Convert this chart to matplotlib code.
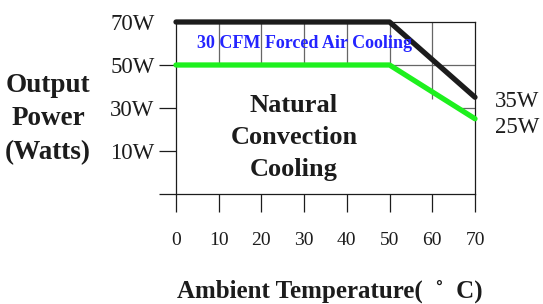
import matplotlib.pyplot as plt

# === Derating curve data ===
temps = [0, 10, 20, 30, 40, 50, 60, 70]
curve_temps = [0, 50, 70]
forced_air = [70, 70, 35]      # 30 CFM forced air cooling
natural_conv = [50, 50, 25]    # natural convection cooling
y_ticks = [-10, 10, 30, 50, 70]
y_labels = ['', '10W', '30W', '50W', '70W']
end_labels = ['35W', '25W']

plt.rcParams['font.family'] = ['Liberation Serif', 'DejaVu Serif']
ink = '#1c1c1c'
grid_c = '#666666'

fig = plt.figure(figsize=(5.43, 3.04), dpi=100)
ax = fig.add_axes([176 / 543, 1 - 194 / 304, 299 / 543, 172 / 304])
ax.set_xlim(0, 70)
ax.set_ylim(-10, 70)

for side in ['left', 'right', 'top', 'bottom']:
    ax.spines[side].set_color(ink)
    ax.spines[side].set_linewidth(0.9)

# === Ticks ===
ax.set_xticks(temps)
ax.set_xticklabels([str(t) for t in temps])
ax.tick_params(axis='x', direction='out', length=13, width=0.9, color=ink,
               pad=14.5, labelsize=14, labelcolor=ink)
ax.set_yticks(y_ticks)
ax.set_yticklabels(y_labels)
ax.tick_params(axis='y', direction='out', length=12.5, width=0.9, color=ink,
               pad=3, labelsize=16.5, labelcolor=ink)
ax.yaxis.get_major_ticks()[-1].tick1line.set_visible(False)

# === Partial grid (the rest is blanked by the natural convection box) ===
ax.vlines(temps[1:6], 50, 70, color=grid_c, lw=0.9, zorder=1)
ax.vlines(temps[6], 34, 70, color=grid_c, lw=0.9, zorder=1)
ax.hlines(50, 0, 70, color=grid_c, lw=0.9, zorder=1)
ax.hlines(30, 66, 70, color=grid_c, lw=0.9, zorder=1)

# === Curves ===
ax.plot(curve_temps, forced_air, color=ink, lw=3.8, solid_capstyle='round',
        solid_joinstyle='round', clip_on=False, zorder=4)
ax.plot(curve_temps, natural_conv, color='#1ef01e', lw=3.8, solid_capstyle='round',
        solid_joinstyle='round', clip_on=False, zorder=4)

ax.annotate(end_labels[0], xy=(curve_temps[-1], forced_air[-1]), xytext=(14.5, -3),
            textcoords='offset points', ha='left', va='center', fontsize=16.5, color=ink)
ax.annotate(end_labels[1], xy=(curve_temps[-1], natural_conv[-1]), xytext=(14.5, -6.5),
            textcoords='offset points', ha='left', va='center', fontsize=16.5, color=ink)

# === Region labels ===
ax.text(30, 60, '30 CFM Forced Air Cooling', ha='center', va='center',
        fontsize=13, fontweight='bold', color='#2424ff', zorder=5)
ax.text(27.6, 16.5, 'Natural\nConvection\nCooling', ha='center', va='center',
        fontsize=19, fontweight='bold', color=ink, linespacing=1.5, zorder=5)

# === Axis titles ===
fig.text(48 / 543, 1 - 119 / 304, 'Output\nPower\n(Watts)', ha='center', va='center',
         fontsize=19.5, fontweight='bold', color=ink, linespacing=1.45)
fig.text(330 / 543, 1 - 298 / 304, 'Ambient Temperature(  \u02da  C)', ha='center',
         va='baseline', fontsize=18, fontweight='bold', color=ink)

fig.savefig('out.png', dpi=100, facecolor='white')
